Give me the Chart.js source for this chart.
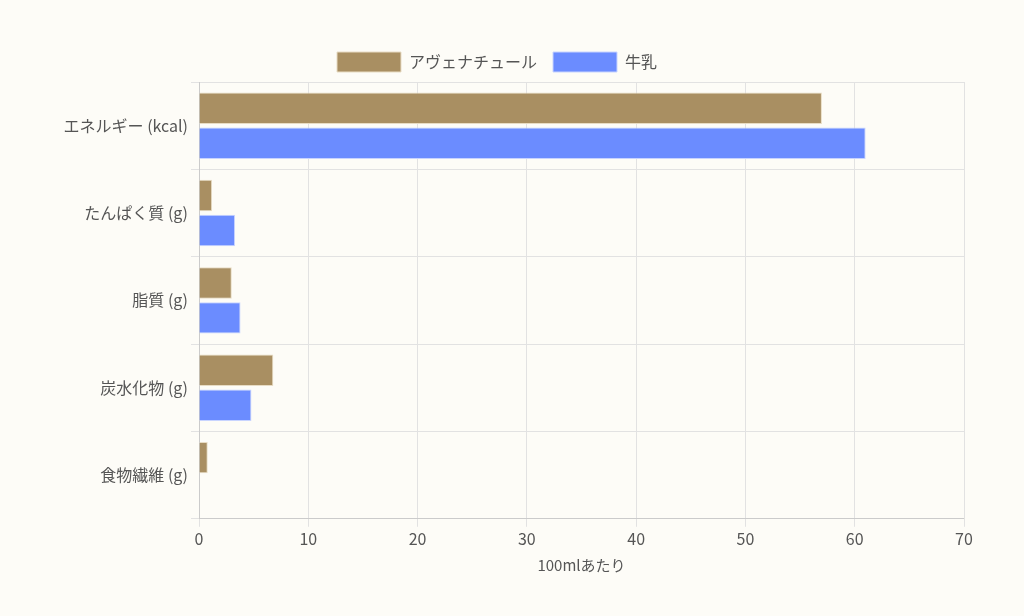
<!DOCTYPE html>
<html>
<head>
<meta charset="utf-8">
<script src="https://cdn.jsdelivr.net/npm/chart.js@4"></script>
<style>
  html, body { margin: 0; background: #fdfcf7; }
  #wrap { width: 1024px; height: 616px; padding: 0; box-sizing: border-box; }
</style>
</head>
<body>
<div id="wrap"><canvas id="c" width="1024" height="616"></canvas></div>
<script>
const categories = ['エネルギー (kcal)', 'たんぱく質 (g)', '脂質 (g)', '炭水化物 (g)', '食物繊維 (g)'];
const avenaValues = [57, 1.2, 3.0, 6.8, 0.8];
const milkValues = [61, 3.3, 3.8, 4.8, 0];
const xTicks = [0, 10, 20, 30, 40, 50, 60, 70];

Chart.defaults.font.family = '"Noto Sans CJK JP", "Noto Sans", sans-serif';
Chart.defaults.font.size = 16;
Chart.defaults.color = '#555';

new Chart(document.getElementById('c'), {
  type: 'bar',
  data: {
    labels: categories,
    datasets: [
      {
        label: 'アヴェナチュール',
        data: avenaValues,
        backgroundColor: '#a98f62',
        borderColor: '#e8dcc4',
        borderWidth: 1,
      },
      {
        label: '牛乳',
        data: milkValues,
        backgroundColor: '#6b8cff',
        borderColor: '#c8d4ff',
        borderWidth: 1,
      },
    ],
  },
  options: {
    indexAxis: 'y',
    responsive: false,
    animation: false,
    layout: { padding: { left: 30, right: 60, top: 36, bottom: 38 } },
    plugins: {
      legend: {
        labels: { boxWidth: 64, boxHeight: 20, padding: 16, color: '#555' },
      },
    },
    scales: {
      x: {
        min: 0,
        max: 70,
        afterBuildTicks: (axis) => { axis.ticks = xTicks.map((v) => ({ value: v })); },
        grid: { color: '#e2e2e2' },
        title: { display: true, text: '100mlあたり', color: '#555', font: { size: 15 } },
      },
      y: {
        afterFit: (axis) => { axis.width = 169; },
        grid: { color: '#e2e2e2' },
      },
    },
  },
});
</script>
</body>
</html>
